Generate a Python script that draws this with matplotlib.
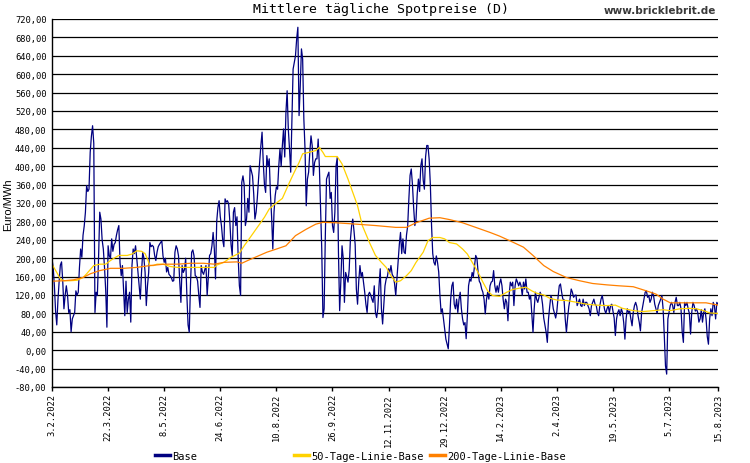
from datetime import datetime, timedelta

import numpy as np
import matplotlib
matplotlib.use('Agg')
import matplotlib.pyplot as plt
from matplotlib.lines import Line2D

# Tagesmittel Spotpreis (Base), ab 3.2.2022, ein Wert pro Tag
start = datetime(2022, 2, 3)
base = [
    198, 180, 140, 85, 55, 110, 150, 185, 192, 150, 90, 119, 140, 120, 82, 88, 40, 68, 75, 82,
    129, 120, 126, 180, 220, 202, 250, 270, 300, 358, 345, 350, 430, 465, 488, 450, 82, 126, 119, 200,
    300, 285, 240, 220, 180, 130, 50,
    227, 205, 200, 242, 215, 230, 234, 250, 262, 271, 190, 162, 184, 130, 75, 150, 82, 111, 126, 61,
    184, 220, 210, 227, 200, 170, 140, 111, 169, 213, 200, 169, 97, 140, 169, 234, 225, 228, 225, 206,
    195, 213, 225, 230, 234, 238, 205,
    191, 200, 170, 180, 165, 162, 158, 150, 151, 213, 227, 220, 205, 150, 104, 184, 169, 175, 200, 119,
    55, 39, 140, 213, 218, 205, 162, 160, 150, 119, 93, 184, 170, 165, 175, 184, 119, 160, 206, 210,
    227, 256, 220, 155, 280, 310, 325,
    290, 270, 240, 225, 329, 322, 325, 318, 280, 230, 206, 300, 310, 271, 290, 200, 140, 119, 365, 379,
    360, 271, 285, 330, 300, 401, 390, 379, 340, 285, 300, 330, 370, 410, 445, 474, 408, 360, 343, 423,
    400, 416, 340, 290, 220, 300, 336,
    355, 350, 400, 437, 400, 445, 481, 420, 517, 564, 480, 437, 387, 500, 611, 626, 640, 677, 702, 510,
    575, 655, 633, 503, 437, 314, 372, 387, 430, 466, 445, 380, 408, 416, 416, 459, 400, 310, 220, 71,
    90, 249, 372, 380, 387, 330, 343,
    271, 256, 300, 401, 419, 213, 86, 150, 227, 200, 104, 169, 160, 148, 175, 240, 270, 285, 260, 230,
    133, 100, 150, 184, 160, 169, 148, 126, 100, 82, 120, 126, 120, 111, 104, 140, 82, 71, 90, 140,
    177, 90, 57, 100, 140, 155, 160,
    177, 169, 184, 165, 160, 145, 119, 155, 190, 230, 256, 210, 242, 213, 210, 250, 270, 329, 380, 394,
    360, 310, 271, 285, 340, 372, 345, 401, 416, 370, 350, 420, 445, 445, 415, 360, 271, 210, 191, 185,
    205, 191, 170, 120, 82, 90, 68,
    46, 24, 13, 3, 53, 110, 140, 148, 100, 90, 111, 82, 110, 126, 90, 68, 55, 60, 25, 75,
    140, 155, 150, 169, 160, 184, 206, 200, 170, 150, 145, 133, 126, 111, 79, 110, 126, 111, 140, 148,
    150, 173, 140, 126, 140, 126, 145,
    155, 140, 110, 90, 111, 104, 64, 120, 148, 140, 148, 97, 140, 155, 148, 140, 148, 140, 119, 148,
    133, 155, 126, 126, 111, 119, 80, 39, 90, 126, 111, 104, 115, 126, 119, 100, 70, 55, 39, 17,
    68, 95, 119, 110, 90, 80, 70, 85, 115, 140, 144, 126, 111, 110, 68, 39, 70, 95, 111, 133,
    126, 115, 119, 120, 97, 104, 111, 97, 95, 111, 97, 104, 104, 97, 90, 75, 97, 104, 111, 100,
    97, 82, 75, 97, 111, 119, 104, 88, 80, 90, 97, 82, 97, 100, 85, 70, 32, 68, 82, 88,
    75, 90, 82, 60, 24, 68, 90, 82, 85, 68, 53, 82, 97, 104, 95, 75, 61, 42, 82, 97,
    111, 126, 129, 115, 119, 104, 111, 126, 119, 100, 90, 80, 97, 104, 111, 119, 90, 32, -34, -52,
    68, 82, 97, 104, 97, 82, 104, 115, 97, 97, 104, 90, 40, 17, 104, 97, 104, 90, 80, 35,
    82, 104, 97, 85, 90, 82, 61, 68, 88, 61, 82, 90, 68, 30, 13, 68, 90, 75, 104, 97,
    68, 104, 100,
]

# gleitende Durchschnitte (Tag seit Start, Wert)
ma50_day = [0, 4, 7, 10, 15, 21, 26, 29, 35, 40, 45, 49, 52, 56, 63, 67, 71, 75, 78, 80,
            82, 85, 88, 93, 99, 105, 110, 119, 127, 136, 138, 144, 150, 157, 161, 166, 172, 178, 182, 186,
            193, 199, 203, 207, 210, 215, 221, 224, 227, 229, 235, 239, 243, 248, 252, 256, 260, 266, 271, 276,
            280, 284, 288, 292, 297, 301, 305, 311, 315, 319, 325, 329, 333, 339, 344, 348, 353, 357, 361, 365,
            369, 375, 381, 386, 392, 397, 402, 406, 412, 417, 423, 431, 440, 448, 456, 465, 472, 478, 487, 495,
            504, 512, 518, 526, 534, 540, 546, 551, 558]
ma50 = [187, 169, 155, 151, 151, 152, 158, 166, 184, 187, 187, 195, 200, 206, 206, 209, 216, 215, 210, 198,
        184, 184, 187, 187, 182, 180, 180, 180, 180, 180, 185, 191, 202, 211, 227, 245, 267, 289, 307, 316,
        330, 365, 387, 408, 427, 430, 434, 441, 430, 421, 421, 421, 405, 372, 343, 314, 271, 234, 206, 191,
        180, 162, 148, 151, 162, 173, 191, 213, 238, 245, 245, 242, 234, 231, 220, 209, 187, 169, 148, 129,
        119, 117, 126, 132, 135, 137, 129, 124, 120, 113, 109, 108, 104, 100, 98, 97, 98, 91, 86, 84,
        86, 88, 86, 90, 91, 90, 86, 81, 80]

ma200_day = [0, 10, 18, 26, 32, 40, 49, 60, 71, 82, 94, 105, 116, 127, 136, 144, 155, 159, 164, 172,
             180, 187, 196, 204, 213, 221, 227, 238, 255, 271, 288, 297, 305, 316, 325, 333, 344, 355, 367, 375,
             386, 395, 403, 412, 420, 431, 442, 453, 465, 475, 487, 498, 506, 512, 518, 531, 548, 558]
ma200 = [150, 151, 153, 158, 166, 173, 178, 178, 180, 184, 187, 187, 189, 189, 187, 191, 192, 189, 195, 204,
         213, 219, 227, 249, 263, 274, 278, 277, 274, 271, 267, 267, 277, 287, 288, 284, 277, 267, 256, 248,
         235, 224, 206, 184, 171, 158, 151, 145, 142, 140, 138, 129, 122, 111, 103, 103, 103, 98]

tick_labels = ['3.2.2022', '22.3.2022', '8.5.2022', '24.6.2022', '10.8.2022', '26.9.2022',
               '12.11.2022', '29.12.2022', '14.2.2023', '2.4.2023', '19.5.2023', '5.7.2023', '15.8.2023']
series_names = ['Base', '50-Tage-Linie-Base', '200-Tage-Linie-Base']
colors = ['#000080', '#FFD200', '#FF8000']

dates = [start + timedelta(days=i) for i in range(len(base))]
ma50_dates = [start + timedelta(days=d) for d in ma50_day]
ma200_dates = [start + timedelta(days=d) for d in ma200_day]
tick_dates = [datetime.strptime(s, '%d.%m.%Y') for s in tick_labels]

mono = 'DejaVu Sans Mono'

fig = plt.figure(figsize=(7.5, 4.64), dpi=100)
ax = fig.add_axes([52 / 750, 1 - 388 / 464, 666 / 750, 368 / 464])

ax.plot(dates, base, color=colors[0], lw=0.9)
ax.plot(ma50_dates, ma50, color=colors[1], lw=0.9)
ax.plot(ma200_dates, ma200, color=colors[2], lw=0.9)

ax.set_xlim(dates[0], dates[-1])
ax.set_ylim(-80, 720)
yt = np.arange(-80, 721, 40)
ax.set_yticks(yt)
ax.set_yticklabels([f'{v},00' for v in yt], fontfamily=mono, fontsize=6.3)
ax.set_xticks(tick_dates)
ax.set_xticklabels(tick_labels, rotation=90, fontfamily=mono, fontsize=6.3, va='top')
ax.tick_params(axis='y', length=0, pad=4)
ax.tick_params(axis='x', length=3, width=1, pad=1.5, color='black')

ax.grid(axis='y', color='black', lw=0.9)
ax.set_axisbelow(True)
for s in ['top', 'right']:
    ax.spines[s].set_visible(False)
for s in ['left', 'bottom']:
    ax.spines[s].set_color('black')
    ax.spines[s].set_linewidth(1.0)

fig.text(8 / 750, 1 - 205 / 464, 'Euro/MWh', fontfamily='Liberation Sans', fontsize=8,
         rotation=90, ha='center', va='center')

fig.text(381 / 750, 1 - 9 / 464, 'Mittlere tägliche Spotpreise (D)', fontfamily=mono,
         fontsize=9.5, ha='center', va='center')
fig.text(716 / 750, 1 - 11 / 464, 'www.bricklebrit.de', fontfamily='DejaVu Sans',
         fontweight='bold', fontsize=7.5, color='#3a3a3a', ha='right', va='center')

# Legende: drei feste Spalten wie im Original
leg_x = [155, 294, 430]
for name, col, lx in zip(series_names, colors, leg_x):
    leg = fig.legend([Line2D([], [], color=col, lw=2.5)], [name], loc='center left',
                     bbox_to_anchor=(lx / 750, 1 - 457 / 464), frameon=False,
                     prop={'family': mono, 'size': 7.5}, handlelength=1.4,
                     handletextpad=0.25, borderpad=0, borderaxespad=0)

fig.savefig('out.png', dpi=100)
